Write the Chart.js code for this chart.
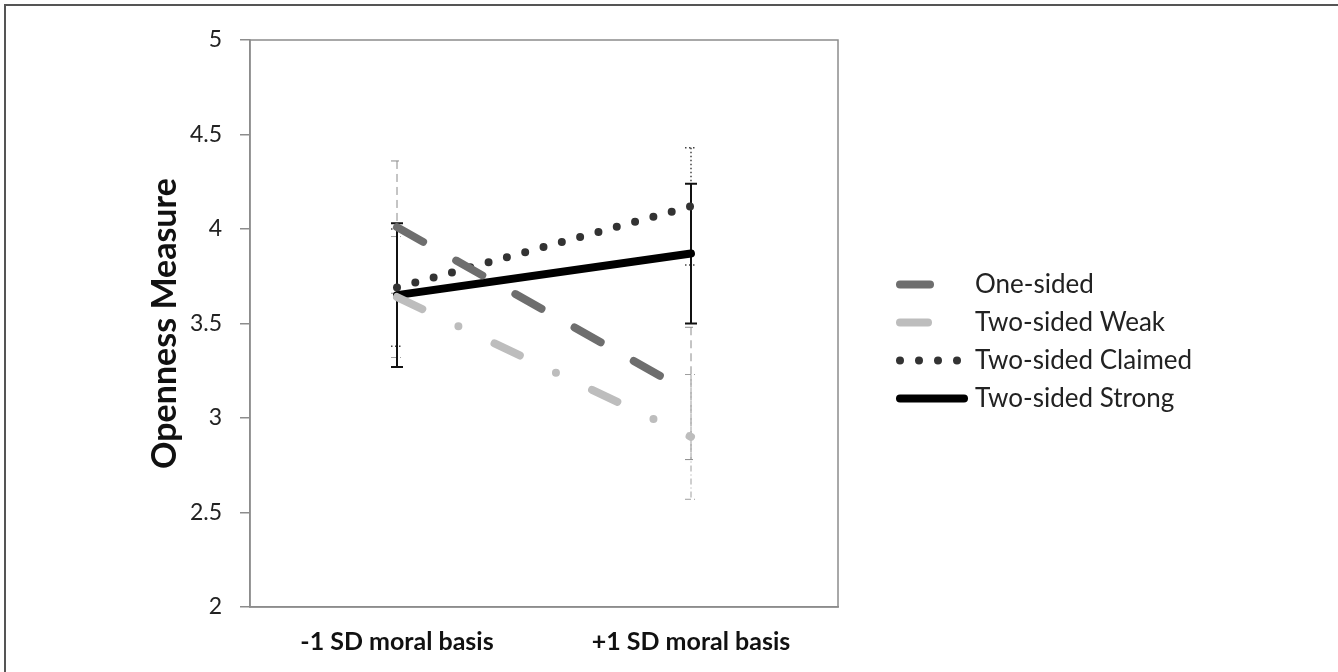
<!DOCTYPE html>
<html>
<head>
<meta charset="utf-8">
<script src="https://cdn.jsdelivr.net/npm/chart.js@4.4.1/dist/chart.umd.min.js"></script>
<style>
  html, body { margin: 0; padding: 0; background: #fff; }
  #wrap { width: 1338px; height: 672px; position: relative; }
</style>
</head>
<body>
<div id="wrap"><canvas id="myLineChart"></canvas></div>
<script>
// categories and series
var categories = ['-1 SD moral basis', '+1 SD moral basis'];
var seriesNames = ['One-sided', 'Two-sided Weak', 'Two-sided Claimed', 'Two-sided Strong'];
var oneSided = [4.01, 3.13];
var twoSidedWeak = [3.64, 2.90];
var twoSidedClaimed = [3.69, 4.12];
var twoSidedStrong = [3.65, 3.87];
// error bar half-widths
var oneSidedErr = [0.35, 0.35];
var twoSidedWeakErr = [0.32, 0.33];
var twoSidedClaimedErr = [0.31, 0.31];
var twoSidedStrongErr = [0.38, 0.37];
var yTicks = [2, 2.5, 3, 3.5, 4, 4.5, 5];

var FONT = 'Lato, "Open Sans", sans-serif';

// error bars drawn under the lines
const errorBars = {
    id: 'errorBars',
    beforeDatasetsDraw(chart) {
        const ctx = chart.ctx;
        const yScale = chart.scales.y;
        chart.data.datasets.forEach((ds, i) => {
            const meta = chart.getDatasetMeta(i);
            ds.data.forEach((v, j) => {
                const x = meta.data[j].x;
                const yTop = yScale.getPixelForValue(v + ds.errors[j]);
                const yBot = yScale.getPixelForValue(v - ds.errors[j]);
                ctx.save();
                ctx.strokeStyle = ds.errColor;
                ctx.lineWidth = ds.errWidth;
                ctx.setLineDash(ds.errDash);
                ctx.beginPath();
                ctx.moveTo(x, yTop);
                ctx.lineTo(x, yBot);
                ctx.moveTo(x - 6, yTop);
                ctx.lineTo(x + 6, yTop);
                ctx.moveTo(x - 6, yBot);
                ctx.lineTo(x + 6, yBot);
                ctx.stroke();
                ctx.restore();
            });
        });
    }
};

// box round the plot, page frame and legend
const frameAndLegend = {
    id: 'frameAndLegend',
    beforeDraw(chart) {
        const ctx = chart.ctx;
        const a = chart.chartArea;
        ctx.save();
        ctx.strokeStyle = '#8c8c8c';
        ctx.lineWidth = 1.5;
        ctx.strokeRect(a.left, a.top, a.right - a.left, a.bottom - a.top);
        ctx.strokeStyle = '#555';
        ctx.lineWidth = 2;
        ctx.beginPath();
        ctx.moveTo(5, chart.height);
        ctx.lineTo(5, 5);
        ctx.lineTo(chart.width, 5);
        ctx.stroke();
        ctx.restore();
    },
    afterDraw(chart) {
        const ctx = chart.ctx;
        const a = chart.chartArea;
        const x0 = a.right + 62;
        const top = (a.top + a.bottom) / 2 + 18 - 1.5 * 38;
        chart.data.datasets.forEach((ds, i) => {
            const y = top + i * 38;
            ctx.save();
            ctx.strokeStyle = ds.borderColor;
            ctx.lineWidth = ds.borderWidth;
            ctx.lineCap = 'round';
            ctx.setLineDash(ds.borderDash || []);
            ctx.beginPath();
            ctx.moveTo(x0, y);
            ctx.lineTo(x0 + 64, y);
            ctx.stroke();
            ctx.setLineDash([]);
            ctx.fillStyle = '#222';
            ctx.font = '26px ' + FONT;
            ctx.textAlign = 'left';
            ctx.textBaseline = 'middle';
            ctx.fillText(ds.label, x0 + 75, y);
            ctx.restore();
        });
    }
};

function createLineChart() {
    var ctx = document.getElementById('myLineChart').getContext('2d');
    return new Chart(ctx, {
        type: 'line',
        data: {
            labels: categories,
            datasets: [
                {
                    label: seriesNames[0],
                    data: oneSided,
                    errors: oneSidedErr,
                    borderColor: '#6e6e6e',
                    borderWidth: 8,
                    borderDash: [30, 38],
                    borderCapStyle: 'round',
                    errColor: '#8a8a8a', errWidth: 1, errDash: [8, 5],
                },
                {
                    label: seriesNames[1],
                    data: twoSidedWeak,
                    errors: twoSidedWeakErr,
                    borderColor: '#bdbdbd',
                    borderWidth: 8,
                    borderDash: [28, 40, 0, 40],
                    borderCapStyle: 'round',
                    errColor: '#9e9e9e', errWidth: 1, errDash: [6, 3, 1, 3],
                },
                {
                    label: seriesNames[2],
                    data: twoSidedClaimed,
                    errors: twoSidedClaimedErr,
                    borderColor: '#333333',
                    borderWidth: 8,
                    borderDash: [0, 19],
                    borderCapStyle: 'round',
                    errColor: '#444', errWidth: 1.5, errDash: [1.5, 2.5],
                },
                {
                    label: seriesNames[3],
                    data: twoSidedStrong,
                    errors: twoSidedStrongErr,
                    borderColor: '#000000',
                    borderWidth: 8,
                    borderCapStyle: 'round',
                    errColor: '#111', errWidth: 2, errDash: [],
                },
            ],
        },
        options: {
            responsive: true,
            maintainAspectRatio: false,
            animation: false,
            layout: { padding: { left: 140, top: 40, right: 500, bottom: 0 } },
            elements: { point: { radius: 0 }, line: { tension: 0 } },
            plugins: { legend: { display: false }, tooltip: { enabled: false } },
            scales: {
                x: {
                    offset: true,
                    grid: { display: false, drawTicks: false },
                    border: { display: true, color: '#8c8c8c', width: 1.5 },
                    ticks: { padding: 20, color: '#111', font: { family: FONT, size: 25, weight: 'bold' } },
                    afterFit: function (scale) { scale.height = 65; },
                },
                y: {
                    min: 2,
                    max: 5,
                    afterBuildTicks: function (scale) {
                        scale.ticks = yTicks.map(v => ({ value: v }));
                    },
                    grid: { drawOnChartArea: false, drawTicks: true, tickLength: 10, color: '#8c8c8c', lineWidth: 1.5 },
                    border: { display: true, color: '#8c8c8c', width: 1.5 },
                    ticks: {
                        padding: 18, color: '#222', font: { family: FONT, size: 23 },
                        callback: function (value) { return String(value); },
                    },
                    title: {
                        display: true,
                        text: 'Openness Measure',
                        color: '#111',
                        padding: { top: 5, bottom: 0 },
                        font: { family: FONT, size: 34, weight: 'bold' },
                    },
                    afterFit: function (scale) { scale.width = 110; },
                },
            },
        },
        plugins: [errorBars, frameAndLegend],
    });
}

createLineChart();
</script>
</body>
</html>
